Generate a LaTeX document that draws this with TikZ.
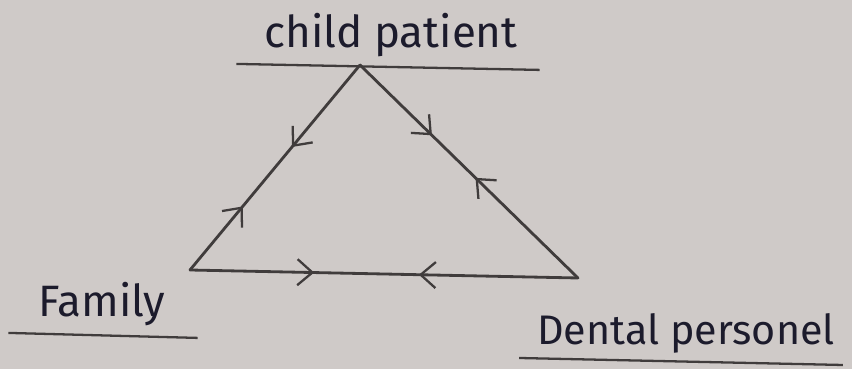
\documentclass[tikz,border=0pt]{standalone}
\usepackage{fontspec}
\setmainfont{Fira Sans}
\usepackage{tikz}
\usetikzlibrary{arrows.meta,positioning,calc,decorations.markings}
\definecolor{dxPaper}{HTML}{CFCAC8}
\definecolor{dxInk}{HTML}{403C3C}
\definecolor{dxText}{HTML}{1C1B2C}
\tikzset{
  dxlbl/.style={text=dxText,inner sep=1pt,font=\fontsize{25}{28}\selectfont},
  dxrule/.style={draw=dxInk,line width=1.3pt},
  dxedge/.style={draw=dxInk,line width=1.6pt,line cap=round,line join=round},
  dxtip/.tip={Straight Barb[length=3mm,width=5.2mm,line width=1.3pt]},
  dxtwoway/.style 2 args={dxedge,postaction={decorate},
    decoration={markings,
      mark=at position #1 with {\arrow[dxInk]{dxtip}},
      mark=at position #2 with {\arrowreversed[dxInk]{dxtip}}}},
}
\begin{document}
\begin{tikzpicture}[x=0.2mm,y=-0.2mm]
  \fill[dxPaper] (0,0) rectangle (852,369);
  \useasboundingbox (0,0) rectangle (852,369);

  % corners of the triangle
  \coordinate (child) at (360,65);
  \coordinate (family) at (190,270);
  \coordinate (dental) at (578,278);

  % labels with their underlines
  \node[dxlbl] (lblchild) at (391,35) {child patient};
  \node[dxlbl] (lblfamily) at (102,304) {Family};
  \node[dxlbl,font=\fontsize{23.5}{27}\selectfont] (lbldental) at (686,333) {Dental personel};
  \draw[dxrule] ($(lblchild.south west)+(-26,5)$) -- ($(lblchild.south east)+(20,11)$);
  \draw[dxrule] ($(lblfamily.south west)+(-28,5)$) -- ($(lblfamily.south east)+(30,10)$);
  \draw[dxrule] ($(lbldental.south west)+(-16,3)$) -- ($(lbldental.south east)+(6,10)$);

  \draw[dxtwoway={0.31}{0.6}] (family) -- (child);
  \draw[dxtwoway={0.33}{0.53}] (child) -- (dental);
  \draw[dxtwoway={0.32}{0.59}] (family) -- (dental);
\end{tikzpicture}
\end{document}
